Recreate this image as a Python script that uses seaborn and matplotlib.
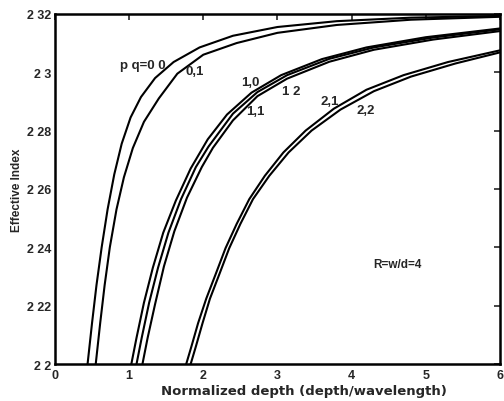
import matplotlib
matplotlib.use("Agg")
import matplotlib.pyplot as plt
import seaborn as sns
import pandas as pd

# ---- data ----
x_00 = [0.44, 0.50, 0.56, 0.63, 0.71, 0.80, 0.90, 1.02, 1.16, 1.35, 1.60, 1.95, 2.40, 3.0, 3.8, 4.8, 6.0]
y_00 = [2.200, 2.214, 2.227, 2.240, 2.253, 2.265, 2.2755, 2.2845, 2.2915, 2.298, 2.3035, 2.3085, 2.3125, 2.3155, 2.3175, 2.3187, 2.3193]

x_01 = [0.55, 0.61, 0.67, 0.74, 0.83, 0.93, 1.05, 1.20, 1.40, 1.65, 2.00, 2.45, 3.0, 3.8, 4.8, 6.0]
y_01 = [2.200, 2.214, 2.227, 2.240, 2.253, 2.264, 2.274, 2.283, 2.291, 2.2995, 2.306, 2.310, 2.3135, 2.3162, 2.3180, 2.3190]

x_10 = [1.03, 1.10, 1.20, 1.32, 1.46, 1.63, 1.83, 2.06, 2.32, 2.65, 3.05, 3.6, 4.2, 5.0, 6.0]
y_10 = [2.200, 2.209, 2.221, 2.233, 2.245, 2.256, 2.267, 2.277, 2.2855, 2.293, 2.299, 2.3045, 2.3085, 2.312, 2.3150]

x_11 = [1.10, 1.17, 1.27, 1.39, 1.53, 1.70, 1.90, 2.07, 2.40, 2.73, 3.13, 3.7, 4.3, 5.1, 6.0]
y_11 = [2.200, 2.209, 2.221, 2.233, 2.245, 2.2565, 2.2675, 2.2745, 2.2858, 2.2932, 2.2990, 2.3046, 2.3085, 2.3119, 2.3147]

x_12 = [1.18, 1.25, 1.35, 1.47, 1.61, 1.78, 1.98, 2.13, 2.40, 2.73, 3.13, 3.7, 4.3, 5.1, 6.0]
y_12 = [2.200, 2.209, 2.2205, 2.2335, 2.2455, 2.257, 2.2675, 2.2741, 2.2835, 2.2918, 2.2978, 2.3036, 2.3077, 2.3112, 2.3141]

x_21 = [1.77, 1.84, 1.93, 2.04, 2.17, 2.30, 2.45, 2.62, 2.83, 3.08, 3.38, 3.76, 4.2, 4.7, 5.3, 6.0]
y_21 = [2.200, 2.206, 2.214, 2.2224, 2.231, 2.2397, 2.248, 2.2565, 2.2645, 2.2725, 2.280, 2.2875, 2.294, 2.2990, 2.3035, 2.3075]

x_22 = [1.83, 1.90, 1.99, 2.09, 2.22, 2.35, 2.50, 2.67, 2.89, 3.15, 3.46, 3.85, 4.3, 4.8, 5.4, 6.0]
y_22 = [2.200, 2.206, 2.214, 2.2224, 2.231, 2.2397, 2.248, 2.2565, 2.2645, 2.2725, 2.280, 2.2872, 2.2935, 2.2985, 2.303, 2.3068]

x_ticks = [0, 1, 2, 3, 4, 5, 6]
x_tick_labels = ["0", "1", "2", "3", "4", "5", "6"]
y_ticks = [2.20, 2.22, 2.24, 2.26, 2.28, 2.30, 2.32]
y_tick_labels = ["2 2", "2 22", "2 24", "2 26", "2 28", "2 3", "2 32"]

mode_labels = ["p q=0 0", "0,1", "1,0", "1,1", "1 2", "2,1", "2,2"]
label_x = [1.19, 1.89, 2.64, 2.70, 3.19, 3.70, 4.19]
label_y = [2.3024, 2.3003, 2.2966, 2.2866, 2.2934, 2.2900, 2.2872]

# ---- build long table ----
series = {"0,0": (x_00, y_00), "0,1": (x_01, y_01), "1,0": (x_10, y_10),
          "1,1": (x_11, y_11), "1,2": (x_12, y_12), "2,1": (x_21, y_21), "2,2": (x_22, y_22)}
rows = []
for k, (xs, ys) in series.items():
    for a, b in zip(xs, ys):
        rows.append({"mode": k, "depth": a, "neff": b})
df = pd.DataFrame(rows)

sns.set_style("white")
plt.rcParams["font.family"] = ["Liberation Sans", "DejaVu Sans"]

fig = plt.figure(figsize=(5.04, 4.02), dpi=100)
ax = fig.add_axes([0.109, 0.092, 0.883, 0.871])

sns.lineplot(data=df, x="depth", y="neff", hue="mode", units="mode", estimator=None,
             sort=False, palette=["black"] * 7, linewidth=1.5, legend=False, ax=ax)

ax.set_xlim(0, 6)
ax.set_ylim(2.2, 2.32)
ax.set_xticks(x_ticks)
ax.set_xticklabels(x_tick_labels, fontsize=9, fontweight="bold")
ax.set_yticks(y_ticks)
ax.set_yticklabels(y_tick_labels, fontsize=9, fontweight="bold")
ax.tick_params(axis="y", direction="in", right=True, length=4, width=1.2, pad=2.5)
ax.tick_params(axis="x", direction="in", top=True, length=4, width=1.2, pad=3.5)
for s in ax.spines.values():
    s.set_linewidth(1.8)
    s.set_color("black")

ax.set_xlabel("Normalized depth (depth/wavelength)", fontsize=9.5, fontweight="bold",
              family="DejaVu Sans")
ax.xaxis.set_label_coords(0.56, -0.058)
ax.set_ylabel("Effective Index", fontsize=8.5, fontweight="bold", labelpad=3)

for t, lx, ly in zip(mode_labels, label_x, label_y):
    ax.text(lx, ly, t, fontsize=9.5, fontweight="bold", ha="center", va="center")
ax.text(4.62, 2.2342, "R=w/d=4", fontsize=8.5, fontweight="bold", ha="center", va="center")

fig.savefig("out.png", dpi=100)
